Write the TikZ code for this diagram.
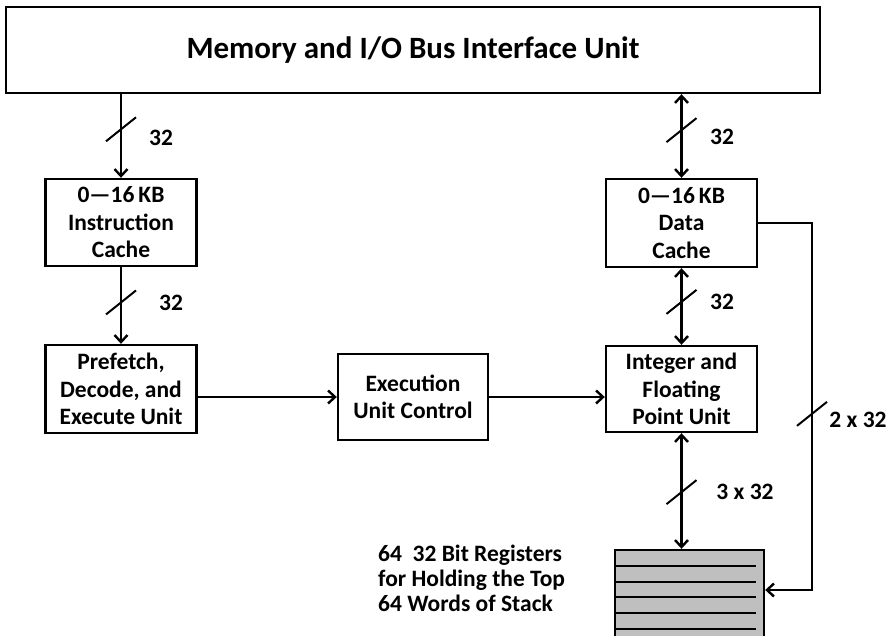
\documentclass[tikz,border=0pt]{standalone}
\usepackage{fontspec}
\setmainfont{Carlito}
\usetikzlibrary{arrows.meta}
\begin{document}
\begin{tikzpicture}[x=1pt,y=-1pt,
  box/.style={draw,line width=2.4pt,inner sep=0pt,align=center,
    font=\fontsize{23.5}{27.5}\selectfont\bfseries},
  lbl/.style={inner sep=0pt,font=\fontsize{23.5}{27.5}\selectfont\bfseries},
  wire/.style={line width=2.4pt},
  arr/.style={wire,-{Straight Barb[length=7pt,width=13pt]}},
  biarr/.style={wire,{Straight Barb[length=7pt,width=13pt]}-{Straight Barb[length=7pt,width=13pt]}},
  slashmark/.style={line width=2pt}]
\useasboundingbox (0,0) rectangle (891,636);
\clip (0,0) rectangle (891,636);

% functional blocks
\node[box,minimum width=814pt,minimum height=86pt,
  font=\fontsize{31}{37}\selectfont\bfseries] (bus) at (413,50) {Memory and I/O Bus Interface Unit};
\node[box,minimum width=151pt,minimum height=87pt] (ic) at (121,222.5) {0—16\,KB\\Instruction\\Cache};
\node[box,minimum width=151pt,minimum height=88pt] (pde) at (121,389) {Prefetch,\\Decode, and\\Execute Unit};
\node[box,minimum width=150pt,minimum height=86pt] (euc) at (413,397) {Execution\\Unit Control};
\node[box,minimum width=151pt,minimum height=86pt] (fpu) at (681.5,389) {Integer and\\Floating\\Point Unit};
\node[box,minimum width=151pt,minimum height=88pt] (dc) at (681.5,223) {0—16\,KB\\Data\\Cache};

% register stack
\node[draw,line width=2.4pt,fill=black!25,minimum width=149pt,minimum height=110pt,inner sep=0pt] (st) at (689.5,605) {};
\foreach \yy in {566,582,597,613,629}
  \draw[line width=2.4pt] (st.west |- 0,\yy) -- (756,\yy);
\node[lbl,anchor=west,align=left,font=\fontsize{23.5}{25}\selectfont\bfseries] (sttext) at (378,578)
  {64\ \ 32 Bit Registers\\for Holding the Top\\64 Words of Stack};

% buses
\draw[arr] (bus.south -| ic.north) -- coordinate[pos=.42] (s1) (ic.north);
\draw[arr] (ic.south) -- coordinate[pos=.46] (s2) (pde.north);
\draw[biarr] (bus.south -| dc.north) -- coordinate[pos=.43] (s3) (dc.north);
\draw[biarr] (dc.south) -- coordinate[pos=.44] (s4) (fpu.north);
\draw[biarr] (fpu.south) -- coordinate[pos=.51] (s5) (fpu.south |- st.north);
\draw[arr] (pde.east |- euc.west) -- (euc.west);
\draw[arr] (euc.east) -- (fpu.west |- euc.east);
\coordinate (bend) at (812,223);
\draw[arr] (dc.east) -- (bend) -- coordinate[pos=.52] (s6) (bend |- 0,590) -- (st.east |- 0,590);

% bus width marks
\foreach \s in {s1,s2,s3,s4,s5,s6}
  \draw[slashmark] (\s) ++(-15,12) -- ++(30,-24);
\node[lbl] (w1) at (161,138) {32};
\node[lbl] (w2) at (171,303) {32};
\node[lbl] (w3) at (722,137) {32};
\node[lbl] (w4) at (722,302) {32};
\node[lbl] (w5) at (745,492) {3 x 32};
\node[lbl] (w6) at (858,420) {2 x 32};
\end{tikzpicture}
\end{document}
